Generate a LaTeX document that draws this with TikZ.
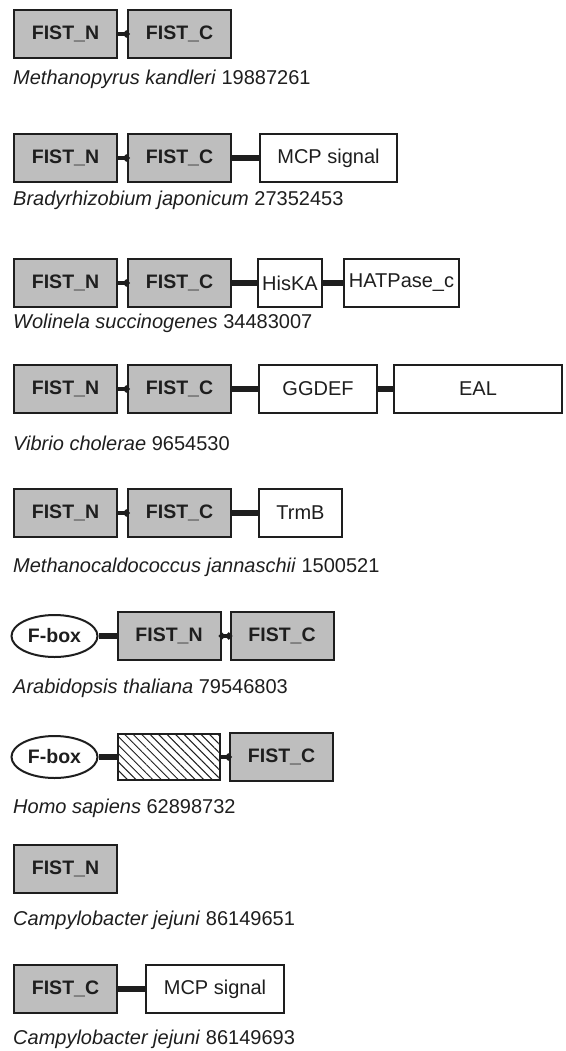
\documentclass[tikz,border=0pt]{standalone}
\usepackage{fontspec}
\setmainfont{Liberation Sans}
\usetikzlibrary{shapes.geometric,arrows.meta,patterns.meta}
\definecolor{dom}{RGB}{190,190,190}
\definecolor{ink}{RGB}{30,30,30}
\begin{document}
\begin{tikzpicture}[x=1pt,y=-1pt,
 fist/.style={draw=ink,line width=2pt,fill=dom,minimum width=103pt,minimum height=48pt,inner sep=0pt,font=\fontsize{19.5}{19.5}\selectfont\bfseries,text=ink},
 plain/.style={draw=ink,line width=2pt,fill=white,minimum height=48pt,inner sep=0pt,font=\fontsize{20}{20}\selectfont,text=ink},
 hatchbox/.style={draw=ink,line width=2pt,minimum width=102pt,minimum height=46pt,inner sep=0pt,pattern={Lines[angle=-45,distance=6pt,line width=1pt]},pattern color=ink},
 fbox/.style={ellipse,draw=ink,line width=2pt,fill=white,minimum width=86pt,minimum height=42pt,inner sep=0pt,font=\fontsize{19.5}{19.5}\selectfont\bfseries,text=ink},
 link/.style={line width=6pt,draw=ink},
 dotlink/.style={line width=4.5pt,draw=ink,shorten >=-2.5pt,-{Circle[length=6.5pt,width=6.5pt]}},
 species/.style={anchor=base west,inner sep=0pt,font=\fontsize{20}{20}\selectfont,text=ink},
]
\useasboundingbox (0,0) rectangle (565,1051);
% Row 1
\node[fist] (n1) at (65.5,34) {FIST\_N};
\node[fist] (c1) at (179.5,34) {FIST\_C};
\draw[dotlink] (n1.east) -- (c1.west);
\node[species] (s1) at (13,85) {\textit{Methanopyrus kandleri} 19887261};
% Row 2
\node[fist] (n2) at (65.5,158) {FIST\_N};
\node[fist] (c2) at (179.5,158) {FIST\_C};
\node[plain,minimum width=137pt] (m2) at (328.5,158) {MCP signal};
\draw[dotlink] (n2.east) -- (c2.west);
\draw[link] (c2.east) -- (m2.west);
\node[species] (s2) at (13,205) {\textit{Bradyrhizobium japonicum} 27352453};
% Row 3
\node[fist] (n3) at (65.5,283) {FIST\_N};
\node[fist] (c3) at (179.5,283) {FIST\_C};
\node[plain,minimum width=64pt] (h3) at (290,283) {HisKA};
\node[plain,minimum width=115pt] (a3) at (401.5,283) {HATPase\_c};
\draw[dotlink] (n3.east) -- (c3.west);
\draw[link] (c3.east) -- (h3.west);
\draw[link] (h3.east) -- (a3.west);
\node[species] (s3) at (13,328) {\textit{Wolinela succinogenes} 34483007};
% Row 4
\node[fist] (n4) at (65.5,389) {FIST\_N};
\node[fist] (c4) at (179.5,389) {FIST\_C};
\node[plain,minimum width=118pt] (g4) at (318,389) {GGDEF};
\node[plain,minimum width=168pt] (e4) at (478,389) {EAL};
\draw[dotlink] (n4.east) -- (c4.west);
\draw[link] (c4.east) -- (g4.west);
\draw[link] (g4.east) -- (e4.west);
\node[species] (s4) at (13,450) {\textit{Vibrio cholerae} 9654530};
% Row 5
\node[fist] (n5) at (65.5,513) {FIST\_N};
\node[fist] (c5) at (179.5,513) {FIST\_C};
\node[plain,minimum width=83pt] (t5) at (300.5,513) {TrmB};
\draw[dotlink] (n5.east) -- (c5.west);
\draw[link] (c5.east) -- (t5.west);
\node[species] (s5) at (13,572) {\textit{Methanocaldococcus jannaschii} 1500521};
% Row 6
\node[fbox] (f6) at (54.5,636) {F-box};
\node[fist] (n6) at (169,636) {FIST\_N};
\node[fist] (c6) at (282,636) {FIST\_C};
\draw[link] (f6.east) -- (n6.west);
\draw[dotlink,shorten <=-2.5pt,{Circle[length=6pt,width=6pt]}-{Circle[length=6.5pt,width=6.5pt]}] (n6.east) -- (c6.west);
\node[species] (s6) at (13,693) {\textit{Arabidopsis thaliana} 79546803};
% Row 7
\node[fbox] (f7) at (54.5,757) {F-box};
\node[hatchbox] (x7) at (169,757) {};
\node[fist] (c7) at (281.5,757) {FIST\_C};
\draw[link] (f7.east) -- (x7.west);
\draw[dotlink] (x7.east) -- (c7.west);
\node[species] (s7) at (13,813) {\textit{Homo sapiens} 62898732};
% Row 8
\node[fist] (n8) at (65.5,869) {FIST\_N};
\node[species] (s8) at (13,925) {\textit{Campylobacter jejuni} 86149651};
% Row 9
\node[fist] (c9) at (65.5,989) {FIST\_C};
\node[plain,minimum width=138pt] (m9) at (215,989) {MCP signal};
\draw[link] (c9.east) -- (m9.west);
\node[species] (s9) at (13,1044) {\textit{Campylobacter jejuni} 86149693};
\end{tikzpicture}
\end{document}
